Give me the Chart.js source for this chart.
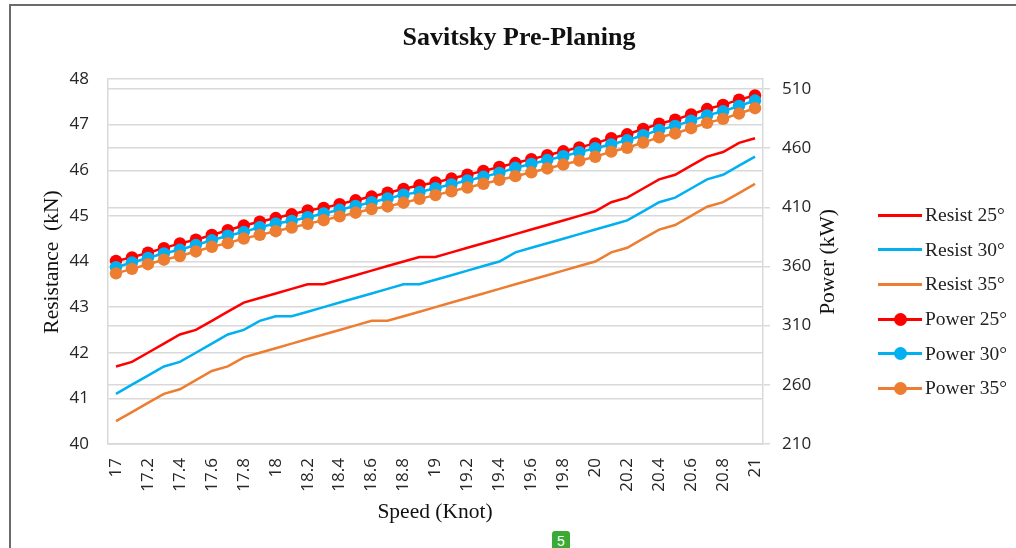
<!DOCTYPE html>
<html>
<head>
<meta charset="utf-8">
<script src="https://cdn.jsdelivr.net/npm/chart.js@4.4.0/dist/chart.umd.min.js"></script>
<style>
body{margin:0;background:#fff;}
#wrap{position:relative;width:1016px;height:548px;overflow:hidden;background:#fff}
#frame{position:absolute;left:9px;top:4px;width:1100px;height:600px;border-left:2px solid #6b6b6b;border-top:2px solid #6b6b6b}
#c{position:absolute;left:0;top:0}
#legend{position:absolute;left:878px;top:198px;font-family:"Liberation Serif",serif;font-size:19.5px;color:#222}
.item{height:34.6px;display:flex;align-items:center}
.sym{position:relative;width:44px;height:13px;margin-right:3px}
.ln{position:absolute;left:0;top:5px;width:44px;height:3px}
.dot{position:absolute;left:15.5px;top:0;width:13px;height:13px;border-radius:50%}
#badge{position:absolute;left:552px;top:531px;width:18px;height:20px;background:#3aaa35;border-radius:3px;color:#fff;font-family:"Liberation Sans",sans-serif;font-size:14px;text-align:center;line-height:20px}
</style>
</head>
<body>
<div id="wrap">
<div id="frame"></div>
<canvas id="c" width="1016" height="548"></canvas>
<div id="legend"></div>
<div id="badge">5</div>
</div>
<script>
// velocidade em nós
var speeds = [17,17.1,17.2,17.3,17.4,17.5,17.6,17.7,17.8,17.9,
18,18.1,18.2,18.3,18.4,18.5,18.6,18.7,18.8,18.9,
19,19.1,19.2,19.3,19.4,19.5,19.6,19.7,19.8,19.9,
20,20.1,20.2,20.3,20.4,20.5,20.6,20.7,20.8,20.9,21]

// resistencia (kN)
var resist25 = [41.7,41.8,42.0,42.2,42.4,42.5,42.7,42.9,43.1,43.2,
43.3,43.4,43.5,43.5,43.6,43.7,43.8,43.9,44.0,44.1,
44.1,44.2,44.3,44.4,44.5,44.6,44.7,44.8,44.9,45.0,
45.1,45.3,45.4,45.6,45.8,45.9,46.1,46.3,46.4,46.6,46.7]
var resist30 = [41.1,41.3,41.5,41.7,41.8,42.0,42.2,42.4,42.5,42.7,
42.8,42.8,42.9,43.0,43.1,43.2,43.3,43.4,43.5,43.5,
43.6,43.7,43.8,43.9,44.0,44.2,44.3,44.4,44.5,44.6,
44.7,44.8,44.9,45.1,45.3,45.4,45.6,45.8,45.9,46.1,46.3]
var resist35 = [40.5,40.7,40.9,41.1,41.2,41.4,41.6,41.7,41.9,42.0,
42.1,42.2,42.3,42.4,42.5,42.6,42.7,42.7,42.8,42.9,
43.0,43.1,43.2,43.3,43.4,43.5,43.6,43.7,43.8,43.9,
44.0,44.2,44.3,44.5,44.7,44.8,45.0,45.2,45.3,45.5,45.7]

// potencia (kW)
var power25 = [364.7,367.7,371.6,375.5,379.5,382.6,386.6,390.6,394.6,397.8,
400.9,404.1,407.3,409.5,412.7,415.9,419.1,422.3,425.5,428.7,
431.0,434.3,437.5,440.8,444.1,447.4,450.7,454.0,457.3,460.6,
464.0,468.4,471.7,476.2,480.6,484.0,488.5,493.0,496.5,501.0,504.5]
var power30 = [359.4,363.3,367.2,371.1,374.1,378.1,382.1,386.0,389.1,393.2,
396.3,398.5,401.6,404.8,407.9,411.1,414.3,417.5,420.7,422.9,
426.1,429.4,432.6,435.8,439.1,443.4,446.6,449.9,453.2,456.6,
459.9,463.2,466.6,470.9,475.4,478.8,483.2,487.7,491.1,495.6,500.2]
var power35 = [354.2,358.0,361.9,365.7,368.8,372.7,376.6,379.7,383.6,386.7,
389.8,392.9,396.0,399.1,402.3,405.4,408.5,410.7,413.9,417.1,
420.3,423.5,426.7,429.9,433.1,436.3,439.6,442.8,446.1,449.4,
452.7,457.0,460.3,464.7,469.1,472.4,476.8,481.3,484.7,489.2,493.7]

var powerTicks = [210,260,310,360,410,460,510]

var vermelho = '#ff0000'
var azul = '#00b0f0'
var laranja = '#ed7d31'

function linha(label, dados, cor, eixo, ordem, marcador){
return {
    label: label,
    data: dados,
    borderColor: cor,
    backgroundColor: cor,
    borderWidth: 2.5,
    pointRadius: marcador ? 6.2 : 0,
    pointHoverRadius: marcador ? 6.2 : 0,
    pointBorderWidth: 0,
    pointBackgroundColor: cor,
    tension: 0,
    yAxisID: eixo,
    order: ordem
}
}

// titulos desenhados na mao
var titulos = {
id: 'titulos',
afterDraw: function(chart){
    var ctx = chart.ctx
    ctx.save()
    ctx.fillStyle = '#111'
    ctx.textAlign = 'center'
    ctx.textBaseline = 'middle'
    ctx.font = 'bold 26px "Liberation Serif"'
    ctx.fillText('Savitsky Pre-Planing', 519, 38)
    ctx.font = '21.5px "Liberation Serif"'
    ctx.fillText('Speed (Knot)', 435, 512)
    ctx.translate(52, 262)
    ctx.rotate(-Math.PI/2)
    ctx.fillText('Resistance  (kN)', 0, 0)
    ctx.restore()
    ctx.save()
    ctx.fillStyle = '#111'
    ctx.textAlign = 'center'
    ctx.textBaseline = 'middle'
    ctx.font = '21.5px "Liberation Serif"'
    ctx.translate(828, 262)
    ctx.rotate(-Math.PI/2)
    ctx.fillText('Power (kW)', 0, 0)
    ctx.restore()
}
}

var fonteTick = {family: 'Open Sans', size: 17}

const config = {
type: 'line',
data: {
    labels: speeds,
    datasets: [
    linha('Resist 25°', resist25, vermelho, 'y', 5, false),
    linha('Resist 30°', resist30, azul, 'y', 4, false),
    linha('Resist 35°', resist35, laranja, 'y', 3, false),
    linha('Power 25°', power25, vermelho, 'y2', 2, true),
    linha('Power 30°', power30, azul, 'y2', 1, true),
    linha('Power 35°', power35, laranja, 'y2', 0, true)
    ]
},
options: {
    responsive: false,
    animation: false,
    layout: {padding: {left: 0, top: 79, right: 193, bottom: 0}},
    plugins: {legend: {display: false}, tooltip: {enabled: false}},
    scales: {
    x: {
        offset: true,
        grid: {display: false},
        border: {display: true, color: '#d9d9d9', width: 1.5},
        ticks: {
        autoSkip: false, maxRotation: 90, minRotation: 90, padding: 6,
        color: '#262626', font: fonteTick,
        callback: function(v, i){ return i % 2 === 0 ? String(speeds[i]) : '' }
        },
        afterFit: function(s){ s.height = 104 }
    },
    y: {
        position: 'left', min: 40, max: 48,
        grid: {color: '#d9d9d9', drawTicks: false, lineWidth: 1.5},
        border: {display: true, color: '#d9d9d9', width: 1.5},
        ticks: {stepSize: 1, padding: 19, color: '#262626', font: fonteTick},
        afterFit: function(s){ s.width = 108 }
    },
    y2: {
        position: 'right', min: 210, max: 518.4,
        grid: {color: '#d9d9d9', drawTicks: true, tickLength: 7, lineWidth: 1.5},
        border: {display: true, color: '#d9d9d9', width: 1.5},
        ticks: {padding: 12, color: '#262626', font: fonteTick},
        afterBuildTicks: function(s){ s.ticks = powerTicks.map(function(v){ return {value: v} }) },
        afterFit: function(s){ s.width = 60 }
    }
    }
},
plugins: [titulos]
}

const ctx = document.getElementById('c').getContext('2d')
window.chart = new Chart(ctx, config)

// legenda em html
var itens = [
['Resist 25°', vermelho, false], ['Resist 30°', azul, false], ['Resist 35°', laranja, false],
['Power 25°', vermelho, true], ['Power 30°', azul, true], ['Power 35°', laranja, true]
]
var leg = document.getElementById('legend')
for (var i = 0; i < itens.length; i++){
var html = '<div class="item"><div class="sym"><div class="ln" style="background:' + itens[i][1] + '"></div>'
if (itens[i][2]) html += '<div class="dot" style="background:' + itens[i][1] + '"></div>'
html += '</div><span>' + itens[i][0] + '</span></div>'
leg.innerHTML += html
}
</script>
</body>
</html>
